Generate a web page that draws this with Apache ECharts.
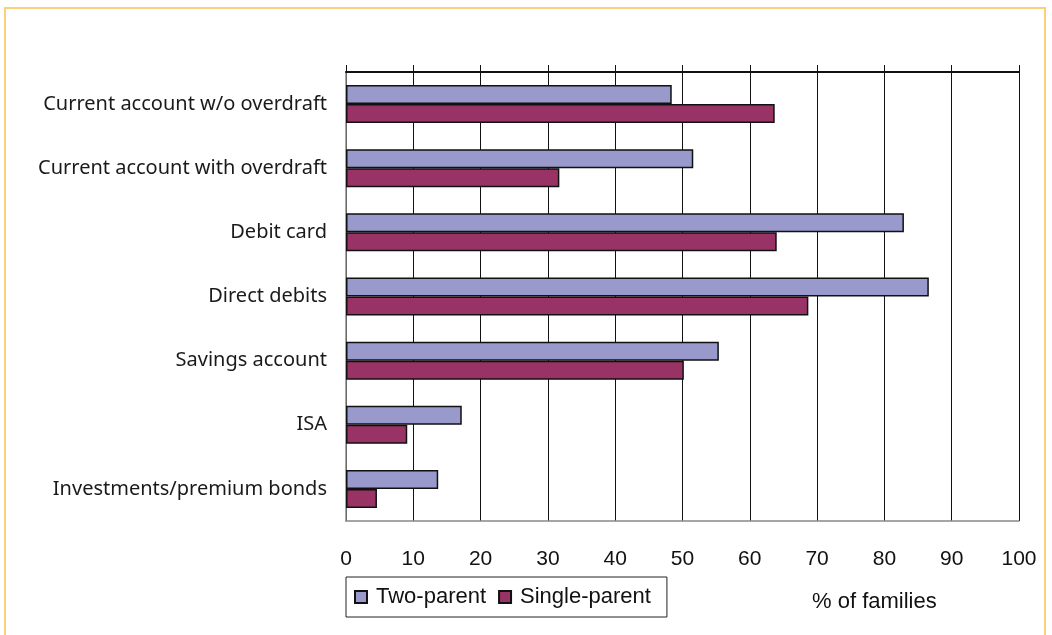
<!DOCTYPE html>
<html>
<head>
<meta charset="utf-8">
<script src="https://cdn.jsdelivr.net/npm/echarts@6/dist/echarts.min.js"></script>
<style>
html,body{margin:0;padding:0;background:#fff;}
#c{width:1052px;height:635px;}
</style>
</head>
<body>
<div id="c"></div>
<script>
const categories = [
  "Current account w/o overdraft",
  "Current account with overdraft",
  "Debit card",
  "Direct debits",
  "Savings account",
  "ISA",
  "Investments/premium bonds"
];
const twoParent = [48.4, 51.6, 82.9, 86.6, 55.4, 17.2, 13.7];
const singleParent = [63.7, 31.7, 64.0, 68.7, 50.2, 9.1, 4.6];
const seriesNames = ["Two-parent", "Single-parent"];
const axisTitle = "% of families";

const chart = echarts.init(document.getElementById('c'), null, {renderer: 'canvas'});
const catFont = '"Noto Sans", "Open Sans", sans-serif';
const numFont = '"Liberation Sans", Arial, sans-serif';
chart.setOption({
  animation: false,
  backgroundColor: '#ffffff',
  graphic: [
    {type: 'rect', shape: {x: 5, y: 8, width: 1040, height: 700}, style: {fill: 'none', stroke: '#FBD07A', lineWidth: 2}, z: -1},
    {type: 'text', left: 812, top: 591, style: {text: axisTitle, font: '22px ' + numFont, fill: '#111'}}
  ],
  legend: {
    left: 346, top: 577,
    orient: 'horizontal',
    data: seriesNames,
    icon: 'rect',
    itemWidth: 12, itemHeight: 12, itemGap: 12,
    padding: [9, 16, 9, 8],
    borderColor: '#222', borderWidth: 1,
    textStyle: {fontFamily: numFont, fontSize: 22, color: '#111', padding: [0, 0, 0, 4]}
  },
  grid: {left: 346, right: 33, top: 72, bottom: 114, containLabel: false},
  xAxis: [
    {
      type: 'value', min: 0, max: 100, interval: 10, position: 'bottom',
      axisLine: {show: true, lineStyle: {color: '#888', width: 1.5}},
      axisTick: {show: false},
      axisLabel: {margin: 28, fontFamily: numFont, fontSize: 21, color: '#111'},
      splitLine: {show: true, lineStyle: {color: '#111', width: 1}}
    },
    {
      type: 'value', min: 0, max: 100, interval: 10, position: 'top',
      axisLine: {show: true, lineStyle: {color: '#111', width: 2}},
      axisTick: {show: true, length: 7, lineStyle: {color: '#111', width: 1}},
      axisLabel: {show: false},
      splitLine: {show: false}
    }
  ],
  yAxis: {
    type: 'category', data: categories, inverse: true,
    axisLine: {show: true, lineStyle: {color: '#888', width: 1.5}},
    axisTick: {show: false},
    axisLabel: {margin: 19, fontFamily: catFont, fontSize: 20, color: '#1a1a1a', padding: [3, 0, 0, 0]}
  },
  series: [
    {
      name: seriesNames[0], type: 'bar', data: twoParent, xAxisIndex: 0,
      barWidth: 19, barGap: '0%',
      itemStyle: {color: '#9999CC', borderColor: '#111', borderWidth: 1.5}
    },
    {
      name: seriesNames[1], type: 'bar', data: singleParent, xAxisIndex: 0,
      barWidth: 19, barGap: '0%',
      itemStyle: {color: '#993366', borderColor: '#111', borderWidth: 1.5}
    }
  ]
});
</script>
</body>
</html>
